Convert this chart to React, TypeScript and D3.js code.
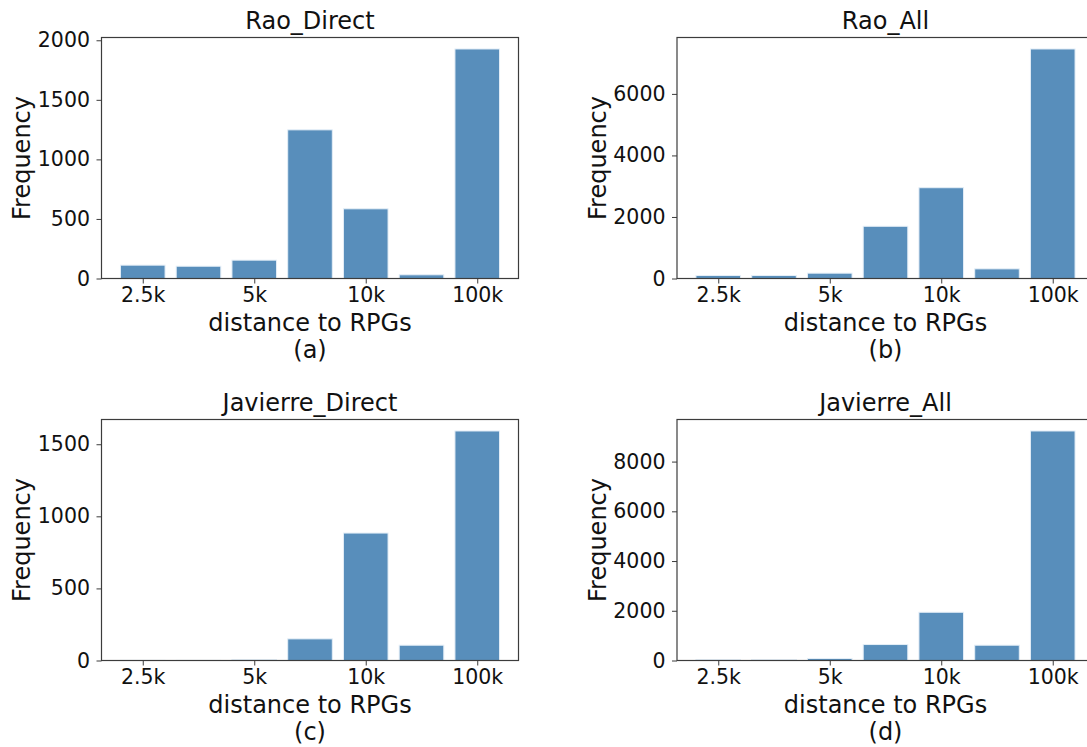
import { useEffect, useRef } from 'react';
import * as d3 from 'd3';

// bins along the x axis; only every other bin carries a label
const bins = [0, 1, 2, 3, 4, 5, 6];
const tickBins = [0, 2, 4, 6];
const tickLabels = ['2.5k', '5k', '10k', '100k'];

const titles = ['Rao_Direct', 'Rao_All', 'Javierre_Direct', 'Javierre_All'];
const captions = ['(a)', '(b)', '(c)', '(d)'];

const raoDirect = [112, 103, 154, 1248, 585, 31, 1927];
const raoAll = [97, 97, 173, 1697, 2951, 313, 7460];
const javierreDirect = [1, 1, 7, 150, 884, 106, 1592];
const javierreAll = [40, 40, 80, 642, 1940, 615, 9231];

const series = [raoDirect, raoAll, javierreDirect, javierreAll];

const W = 1087;
const H = 747;
const FONT = '"DejaVu Sans", sans-serif';
const FS = 24;
const TICK_FS = 20.5;

const App = () => {
  const ref = useRef<SVGSVGElement | null>(null);

  useEffect(() => {
    const svg = d3.select(ref.current);
    svg.selectAll('*').remove();

    const pw = 417;
    const ph = 241;
    const lefts = [101.5, 677];
    const tops = [37.5, 419.5];

    series.forEach((values, i) => {
      const ox = lefts[i % 2];
      const oy = tops[Math.floor(i / 2)];

      const g = svg.append('g').attr('transform', `translate(${ox},${oy})`);

      // matplotlib-like limits: bars 0.8 wide, 5% margins
      const x = d3.scaleLinear().domain([-0.74, 6.74]).range([0, pw]);
      const ymax = d3.max(values)! * 1.05;
      const y = d3.scaleLinear().domain([0, ymax]).range([ph, 0]);

      g.selectAll('rect.bar')
        .data(values)
        .join('rect')
        .attr('class', 'bar')
        .attr('x', (_, j) => x(bins[j] - 0.4))
        .attr('width', x(0.8) - x(0))
        .attr('y', d => y(d))
        .attr('height', d => ph - y(d))
        .attr('fill', '#588ebb')
        .attr('stroke', '#e4eef7')
        .attr('stroke-width', 1);

      // frame
      g.append('rect')
        .attr('width', pw)
        .attr('height', ph)
        .attr('fill', 'none')
        .attr('stroke', '#3c3c3c')
        .attr('stroke-width', 1.2);

      const yAxis = g.append('g')
        .call(d3.axisLeft(y).ticks(5).tickSize(5).tickPadding(6.5).tickFormat(d3.format('d')));
      yAxis.select('.domain').remove();
      yAxis.selectAll('line').attr('stroke', '#3c3c3c');
      yAxis.selectAll('text')
        .attr('font-family', FONT)
        .attr('font-size', TICK_FS)
        .attr('fill', '#111');

      const xAxis = g.append('g')
        .attr('transform', `translate(0,${ph})`)
        .call(d3.axisBottom(x).tickValues(tickBins).tickSize(5).tickPadding(4)
          .tickFormat((_, k) => tickLabels[k]));
      xAxis.select('.domain').remove();
      xAxis.selectAll('line').attr('stroke', '#3c3c3c');
      xAxis.selectAll('text')
        .attr('font-family', FONT)
        .attr('font-size', TICK_FS)
        .attr('fill', '#111');

      g.append('text')
        .attr('x', pw / 2)
        .attr('y', -8.5)
        .attr('text-anchor', 'middle')
        .attr('font-family', FONT)
        .attr('font-size', FS)
        .attr('fill', '#111')
        .text(titles[i]);

      g.append('text')
        .attr('x', pw / 2)
        .attr('y', ph + 52)
        .attr('text-anchor', 'middle')
        .attr('font-family', FONT)
        .attr('font-size', FS)
        .attr('fill', '#111')
        .text('distance to RPGs');

      g.append('text')
        .attr('x', pw / 2)
        .attr('y', ph + 79)
        .attr('text-anchor', 'middle')
        .attr('font-family', FONT)
        .attr('font-size', FS)
        .attr('fill', '#111')
        .text(captions[i]);

      g.append('text')
        .attr('transform', `translate(-71.5,${ph / 2}) rotate(-90)`)
        .attr('text-anchor', 'middle')
        .attr('font-family', FONT)
        .attr('font-size', FS)
        .attr('fill', '#111')
        .text('Frequency');
    });
  }, []);

  return (
    <svg
      ref={ref}
      width={W}
      height={H}
      style={{ position: 'absolute', left: 0, top: 0, background: '#fff' }}
    />
  );
};

export default App;
